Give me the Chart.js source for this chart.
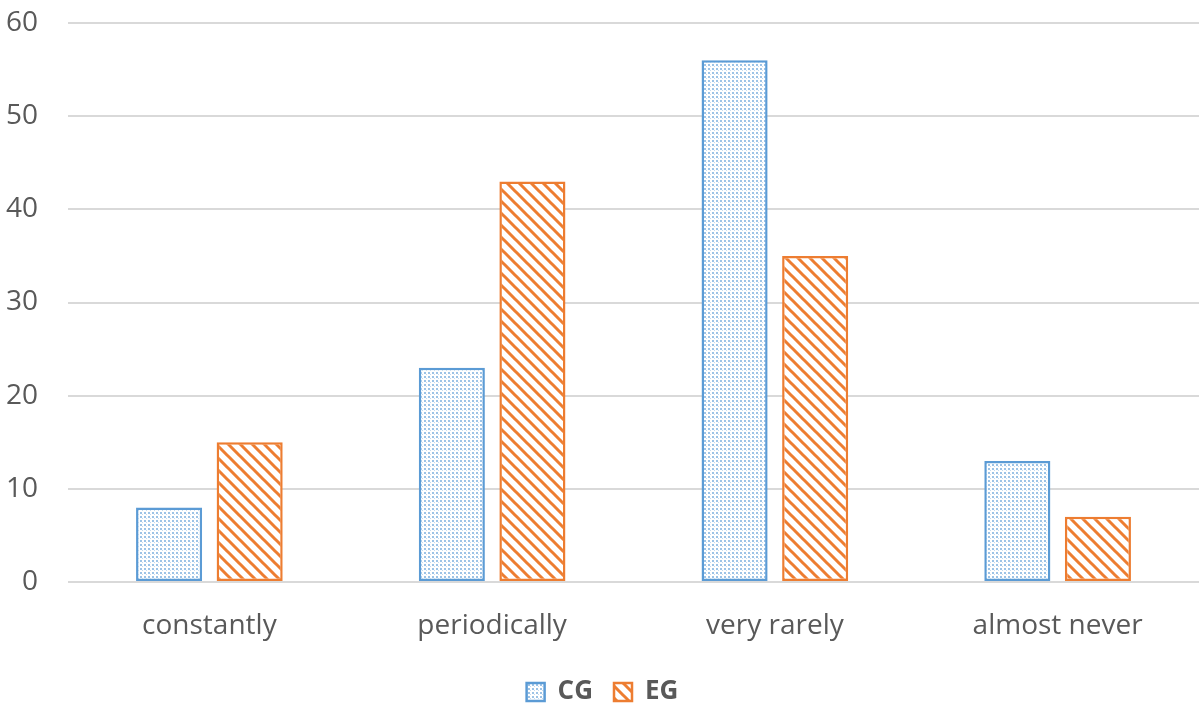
<!DOCTYPE html>
<html>
<head>
<meta charset="utf-8">
<script src="https://cdn.jsdelivr.net/npm/chart.js@4"></script>
<style>
  html, body { margin: 0; padding: 0; background: #fff; }
  #wrap { width: 1199px; height: 703px; }
</style>
</head>
<body>
<div id="wrap"><canvas id="chart" width="1199" height="703"></canvas></div>
<script>
const categories = ["constantly", "periodically", "very rarely", "almost never"];
const cgValues = [8, 23, 56, 13];
const egValues = [15, 43, 35, 7];
const yTicks = [0, 10, 20, 30, 40, 50, 60];

function dotPattern() {
  const c = document.createElement("canvas");
  c.width = 4;
  c.height = 4;
  const ctx = c.getContext("2d");
  ctx.fillStyle = "#ffffff";
  ctx.fillRect(0, 0, 4, 4);
  ctx.fillStyle = "#9dc3e6";
  ctx.fillRect(0, 0, 2, 2);
  ctx.fillStyle = "#c5dbf0";
  ctx.fillRect(2, 2, 1, 1);
  return ctx.createPattern(c, "repeat");
}

function hatchPattern() {
  const s = 12;
  const c = document.createElement("canvas");
  c.width = s;
  c.height = s;
  const ctx = c.getContext("2d");
  ctx.fillStyle = "#ffffff";
  ctx.fillRect(0, 0, s, s);
  ctx.strokeStyle = "#ed7d31";
  ctx.lineWidth = 3;
  ctx.beginPath();
  ctx.moveTo(-s, 0); ctx.lineTo(s * 2, s * 3);
  ctx.moveTo(-s, -s); ctx.lineTo(s * 2, s * 2);
  ctx.moveTo(0, -s); ctx.lineTo(s * 2, s);
  ctx.moveTo(-s * 2, -s); ctx.lineTo(s, s * 2);
  ctx.stroke();
  return ctx.createPattern(c, "repeat");
}

const textColor = "#595959";
const font = "'Open Sans', 'Liberation Sans', sans-serif";

new Chart(document.getElementById("chart"), {
  type: "bar",
  data: {
    labels: categories,
    datasets: [
      {
        label: "CG",
        data: cgValues,
        backgroundColor: dotPattern(),
        borderColor: "#5b9bd5",
        borderWidth: 2.5,
        borderSkipped: false,
        categoryPercentage: 0.57,
        barPercentage: 0.82,
      },
      {
        label: "EG",
        data: egValues,
        backgroundColor: hatchPattern(),
        borderColor: "#ed7d31",
        borderWidth: 2.5,
        borderSkipped: false,
        categoryPercentage: 0.57,
        barPercentage: 0.82,
      },
    ],
  },
  options: {
    responsive: false,
    animation: false,
    layout: { padding: { top: 23, right: 0, left: 6, bottom: -12 } },
    scales: {
      y: {
        min: 0,
        max: 60,
        afterBuildTicks(axis) {
          axis.ticks = yTicks.map((v) => ({ value: v }));
        },
        afterFit(axis) {
          axis.width = 62;
        },
        border: { display: false },
        grid: {
          color: "#d9d9d9",
          lineWidth: 2,
          drawTicks: true,
          tickLength: 30,
          tickColor: "rgba(0,0,0,0)",
        },
        ticks: {
          color: textColor,
          font: { family: font, size: 28 },
          padding: 0,
        },
      },
      x: {
        border: { display: false },
        grid: { display: false, drawTicks: false },
        afterFit(axis) {
          axis.height = 76;
        },
        ticks: {
          color: textColor,
          font: { family: font, size: 28 },
          padding: 27,
        },
      },
    },
    plugins: {
      legend: {
        position: "bottom",
        labels: {
          color: textColor,
          font: { family: font, size: 26, weight: "bold" },
          boxWidth: 18,
          boxHeight: 18,
          padding: 21,
        },
      },
      tooltip: { enabled: false },
    },
  },
});
</script>
</body>
</html>
